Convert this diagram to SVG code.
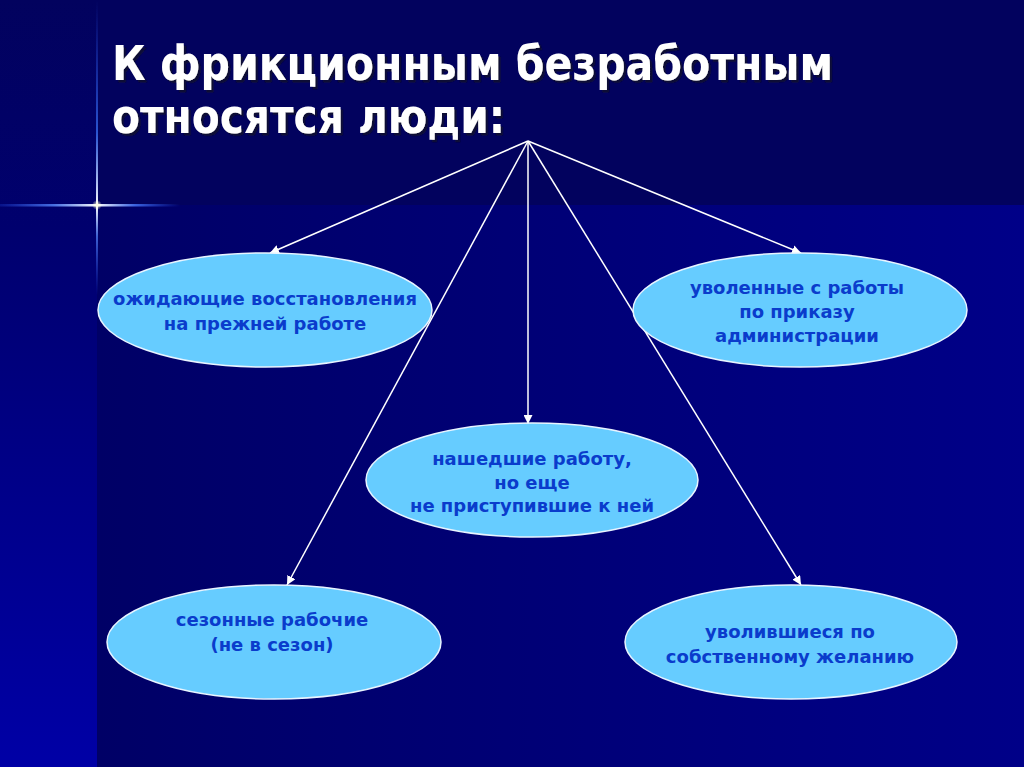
<svg xmlns="http://www.w3.org/2000/svg" width="1024" height="767" viewBox="0 0 1024 767">
<defs>
<linearGradient id="gLeft" x1="0" y1="0" x2="0" y2="1">
<stop offset="0" stop-color="#02025e"/>
<stop offset="0.3" stop-color="#00006e"/>
<stop offset="1" stop-color="#0000a6"/>
</linearGradient>
<linearGradient id="gLow" x1="0" y1="0" x2="1" y2="0">
<stop offset="0" stop-color="#000066"/>
<stop offset="1" stop-color="#000088"/>
</linearGradient>
<linearGradient id="gV" x1="0" y1="0" x2="0" y2="1">
<stop offset="0" stop-color="#2a5cff" stop-opacity="0"/>
<stop offset="0.45" stop-color="#3c78ff" stop-opacity="0.7"/>
<stop offset="0.7" stop-color="#ffffff" stop-opacity="1"/>
<stop offset="0.8" stop-color="#5a8cff" stop-opacity="0.7"/>
<stop offset="1" stop-color="#2a5cff" stop-opacity="0"/>
</linearGradient>
<linearGradient id="gH" x1="0" y1="0" x2="1" y2="0">
<stop offset="0" stop-color="#2a5cff" stop-opacity="0.2"/>
<stop offset="0.3" stop-color="#5a8cff" stop-opacity="0.8"/>
<stop offset="0.54" stop-color="#ffffff" stop-opacity="1"/>
<stop offset="0.75" stop-color="#4a7cff" stop-opacity="0.8"/>
<stop offset="1" stop-color="#2a5cff" stop-opacity="0"/>
</linearGradient>
<radialGradient id="gGlow">
<stop offset="0" stop-color="#ffffe0" stop-opacity="1"/>
<stop offset="1" stop-color="#ffffe0" stop-opacity="0"/>
</radialGradient>
<filter id="shadow" x="-5%" y="-20%" width="110%" height="140%">
<feDropShadow dx="2.5" dy="2.5" stdDeviation="0.6" flood-color="#10102e" flood-opacity="0.85"/>
</filter>
<marker id="arr" viewBox="0 0 10 10" refX="10" refY="5" markerWidth="9" markerHeight="9" markerUnits="userSpaceOnUse" orient="auto">
<path d="M0,0 L10,5 L0,10 Z" fill="#ffffff"/>
</marker>
</defs>
<style>
.node ellipse { fill: #66ccff; stroke: #e8f4ff; stroke-width: 1.5; }
.node text { font-family: "DejaVu Sans", Verdana, sans-serif; font-weight: bold; font-size: 18px; fill: #0a3ccc; text-anchor: middle; }
.title { font-family: "DejaVu Sans Condensed", "DejaVu Sans", Tahoma, sans-serif; font-weight: bold; font-size: 48px; fill: #ffffff; }
#connectors line { stroke: #ffffff; stroke-width: 1.5; marker-end: url(#arr); }
</style>
<rect width="1024" height="767" fill="#02025e"/>
<rect x="97" y="205" width="927" height="562" fill="url(#gLow)"/>
<rect x="0" y="0" width="97" height="767" fill="url(#gLeft)"/>
<rect x="96" y="0" width="2" height="295" fill="url(#gV)"/>
<rect x="0" y="204" width="180" height="2.5" fill="url(#gH)"/>
<circle cx="97" cy="205" r="5" fill="url(#gGlow)"/>
<g id="title" filter="url(#shadow)">
<text class="title" x="112" y="80" textLength="721" lengthAdjust="spacingAndGlyphs">К фрикционным безработным</text>
<text class="title" x="112" y="133" textLength="393" lengthAdjust="spacingAndGlyphs">относятся люди:</text>
</g>
<g id="connectors">
<line x1="528" y1="141" x2="270" y2="253"/>
<line x1="528" y1="141" x2="801" y2="253"/>
<line x1="528" y1="141" x2="528" y2="424"/>
<line x1="528" y1="141" x2="287" y2="585"/>
<line x1="528" y1="141" x2="801" y2="585"/>
</g>
<g id="n1" class="node">
<ellipse cx="265" cy="310" rx="167" ry="57"/>
<text x="265" y="305">ожидающие восстановления</text>
<text x="265" y="330">на прежней работе</text>
</g>
<g id="n2" class="node">
<ellipse cx="800" cy="310" rx="167" ry="57"/>
<text x="797" y="294">уволенные с работы</text>
<text x="797" y="318">по приказу</text>
<text x="797" y="342">администрации</text>
</g>
<g id="n3" class="node">
<ellipse cx="532" cy="480" rx="166" ry="57"/>
<text x="532" y="465">нашедшие работу,</text>
<text x="532" y="489">но еще</text>
<text x="532" y="512">не приступившие к ней</text>
</g>
<g id="n4" class="node">
<ellipse cx="274" cy="642" rx="167" ry="57"/>
<text x="272" y="626">сезонные рабочие</text>
<text x="272" y="651">(не в сезон)</text>
</g>
<g id="n5" class="node">
<ellipse cx="791" cy="642" rx="166" ry="57"/>
<text x="790" y="638">уволившиеся по</text>
<text x="790" y="663">собственному желанию</text>
</g>
</svg>
